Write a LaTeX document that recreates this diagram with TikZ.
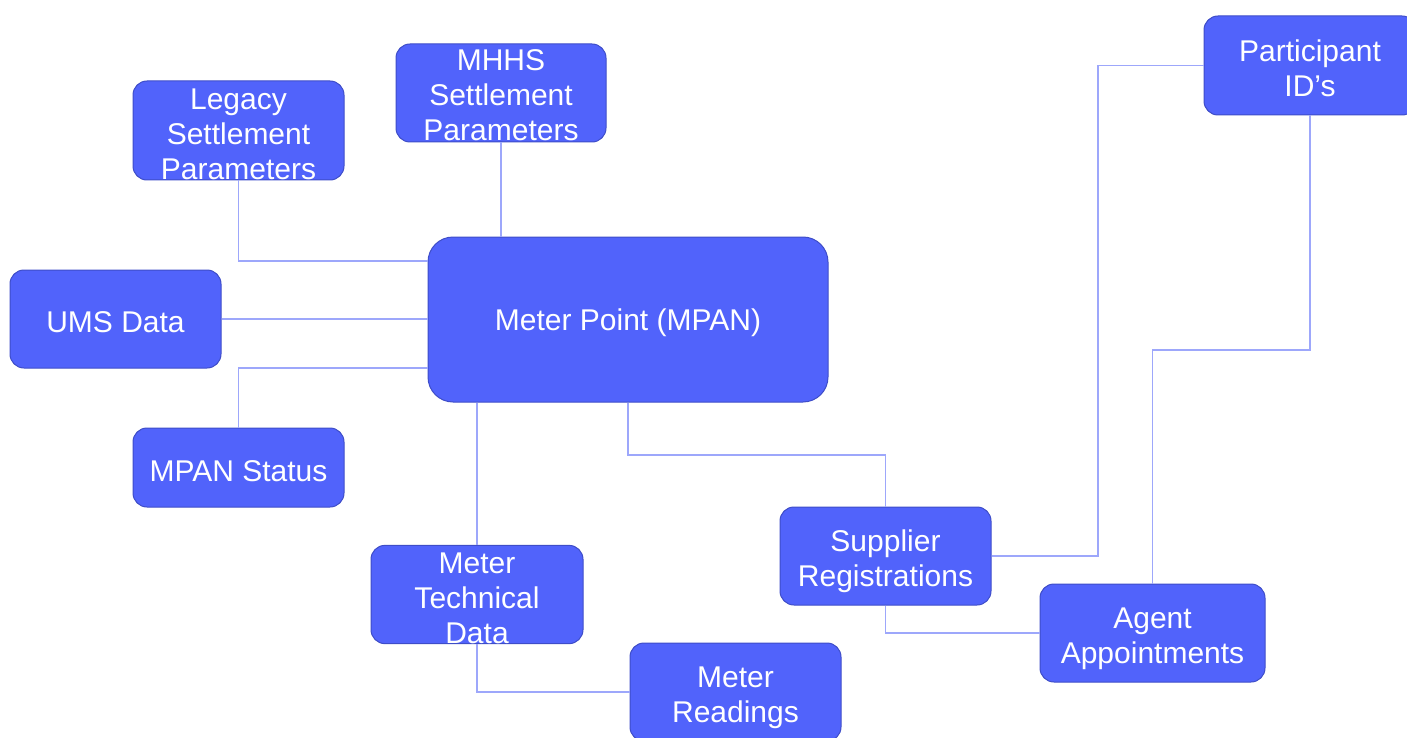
\documentclass[tikz,border=0pt]{standalone}
\usepackage{fontspec}
\setmainfont{Liberation Sans}
\definecolor{boxfill}{HTML}{5163FB}
\definecolor{boxline}{HTML}{3E4DC8}
\definecolor{wirecol}{HTML}{9DA7FB}
\newcommand{\topstrut}[1]{\rule{0pt}{#1}}
\begin{document}
\begin{tikzpicture}[x=1pt,y=-1pt,
  box/.style={draw=boxline, line width=1pt, fill=boxfill, rounded corners=14pt,
    text=white, align=center, inner sep=0pt,
    minimum width=211pt, minimum height=98pt,
    font=\fontsize{30}{35}\selectfont},
  wire/.style={draw=wirecol, line width=1.2pt}]
\useasboundingbox (0,0) rectangle (1407,738);
\node[box, minimum height=99pt] (leg) at (238.5,130.5) {\topstrut{28pt}Legacy\\Settlement\\Parameters};
\node[box, minimum width=210pt] (mhhs) at (501,93) {\topstrut{25pt}MHHS\\Settlement\\Parameters};
\node[box, minimum width=400pt, minimum height=165pt, rounded corners=25pt] (mp) at (628,319.5) {\topstrut{28pt}Meter Point (MPAN)};
\node[box] (ums) at (115.5,319) {\topstrut{28pt}UMS Data};
\node[box, minimum height=79pt] (stat) at (238.5,467.5) {\topstrut{28pt}MPAN Status};
\node[box, minimum width=212pt, minimum height=97pt] (mtd) at (477,594.5) {\topstrut{28pt}Meter\\Technical\\Data};
\node[box] (mr) at (735.5,692) {\topstrut{33pt}Meter\\Readings};
\node[box] (sr) at (885.5,556) {\topstrut{32pt}Supplier\\Registrations};
\node[box, minimum width=225pt] (aa) at (1152.5,633) {\topstrut{32pt}Agent\\Appointments};
\node[box, minimum width=212pt, minimum height=99pt] (pid) at (1310,65.5) {\topstrut{27pt}Participant\\ID’s};
\coordinate (c1) at (0,261);
\coordinate (c2) at (0,368);
\coordinate (c3) at (0,455);
\coordinate (c4) at (1098,0);
\coordinate (c5) at (0,350);
\draw[wire] (leg.south) |- (mp.west |- c1);
\draw[wire] (mhhs.south) -- (mhhs.south |- mp.north);
\draw[wire] (ums.east) -- (mp.west |- ums.east);
\draw[wire] (mp.west |- c2) -| (stat.north);
\draw[wire] (mp.south -| mtd.north) -- (mtd.north);
\draw[wire] (mtd.south) |- (mr.west);
\draw[wire] (mp.south) -- (mp.south |- c3) -| (sr.north);
\draw[wire] (sr.east) -| (c4 |- pid.west) -- (pid.west);
\draw[wire] (sr.south) |- (aa.west);
\draw[wire] (aa.north) -- (aa.north |- c5) -| (pid.south);
\end{tikzpicture}
\end{document}
